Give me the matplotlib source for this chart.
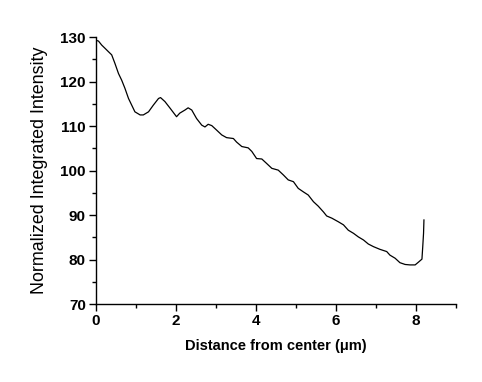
import matplotlib
matplotlib.use("Agg")
import matplotlib.pyplot as plt
from matplotlib.ticker import MultipleLocator

distance = [0.0, 0.07, 0.15, 0.23, 0.32, 0.40, 0.48, 0.57, 0.65, 0.73, 0.82, 0.90, 0.98,
            1.11, 1.19, 1.32, 1.44, 1.57, 1.62, 1.73, 1.86, 2.02, 2.10, 2.23, 2.31, 2.40,
            2.52, 2.65, 2.73, 2.81, 2.90, 3.02, 3.15, 3.27, 3.44, 3.52, 3.65, 3.81, 3.90,
            4.02, 4.15, 4.27, 4.40, 4.56, 4.69, 4.81, 4.94, 5.06, 5.19, 5.31, 5.44, 5.56,
            5.69, 5.77, 5.90, 6.06, 6.19, 6.31, 6.44, 6.56, 6.69, 6.81, 6.94, 7.10, 7.27,
            7.35, 7.48, 7.60, 7.73, 7.85, 7.98, 8.06, 8.15, 8.17, 8.19, 8.20]
intensity = [129.3, 129.1, 128.2, 127.5, 126.7, 126.0, 124.1, 121.8, 120.3, 118.5, 116.2, 114.7, 113.2,
             112.5, 112.5, 113.2, 114.7, 116.2, 116.4, 115.5, 114.0, 112.1, 112.9, 113.6, 114.1, 113.6,
             111.7, 110.2, 109.8, 110.4, 110.1, 109.1, 108.0, 107.4, 107.2, 106.4, 105.4, 105.1, 104.3,
             102.7, 102.6, 101.6, 100.5, 100.1, 99.0, 97.9, 97.5, 96.0, 95.2, 94.5, 93.0, 92.0,
             90.7, 89.8, 89.3, 88.5, 87.8, 86.6, 85.9, 85.1, 84.4, 83.5, 82.9, 82.3, 81.8,
             81.0, 80.3, 79.3, 78.9, 78.8, 78.8, 79.4, 80.1, 82.9, 85.9, 88.9]

fig = plt.figure(figsize=(4.82, 3.82), dpi=100)
ax = fig.add_axes([0.1985, 0.204, 0.7475, 0.699])
ax.plot(distance, intensity, color="black", lw=0.9)
ax.set_xlim(0, 9)
ax.set_ylim(70, 130)
ax.spines["top"].set_visible(False)
ax.spines["right"].set_visible(False)
for s in ["left", "bottom"]:
    ax.spines[s].set_linewidth(1.0)
ax.xaxis.set_major_locator(MultipleLocator(2))
ax.xaxis.set_minor_locator(MultipleLocator(1))
ax.yaxis.set_major_locator(MultipleLocator(10))
ax.yaxis.set_minor_locator(MultipleLocator(5))
ax.tick_params(which="major", direction="out", length=5, width=1, labelsize=11, pad=2)
ax.tick_params(which="minor", direction="out", length=3, width=1)
for lab in ax.get_xticklabels() + ax.get_yticklabels():
    lab.set_fontfamily("Liberation Sans")
    lab.set_fontweight("bold")
ax.set_xlabel("Distance from center (\u03bcm)", fontfamily="Liberation Sans",
              fontweight="bold", fontsize=10.5, labelpad=8)
ax.set_ylabel("Normalized Integrated Intensity", fontfamily="Liberation Sans",
              fontsize=12.9, labelpad=9)
fig.savefig("out.png", dpi=100)
